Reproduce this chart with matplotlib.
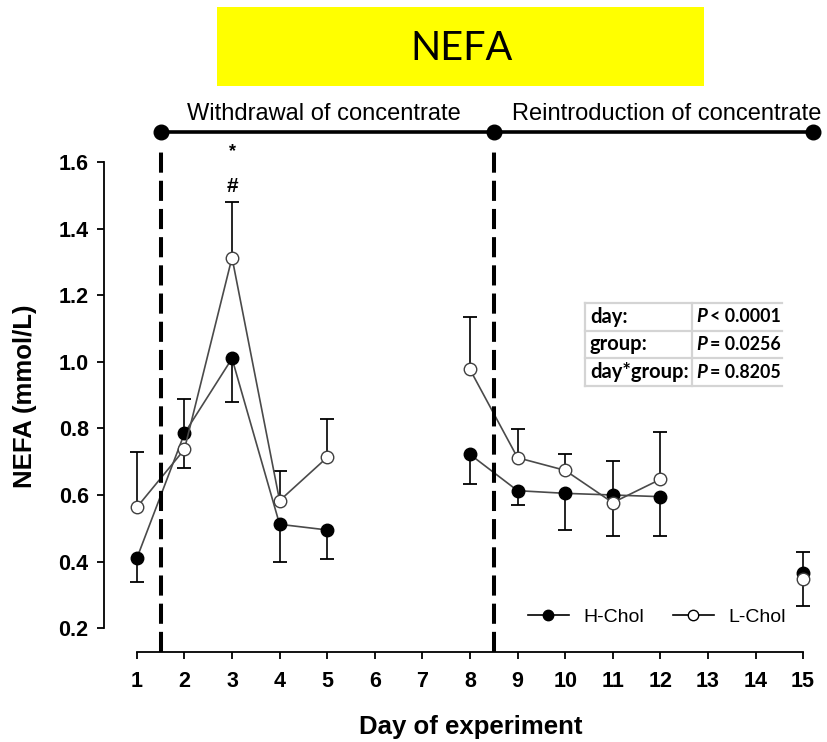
import numpy as np
import matplotlib.pyplot as plt
from matplotlib.lines import Line2D
from matplotlib.patches import Rectangle

nan = np.nan

days = [1, 2, 3, 4, 5, 6, 7, 8, 9, 10, 11, 12, 13, 14, 15]

# means (mmol/L); NaN = no sampling on that day
h_chol = [0.410, 0.785, 1.010, 0.512, 0.495, nan, nan, 0.722, 0.613, 0.605, 0.600, 0.595, nan, nan, 0.365]
l_chol = [0.563, 0.737, 1.313, 0.583, 0.713, nan, nan, 0.977, 0.712, 0.674, 0.577, 0.647, nan, nan, 0.348]

# one-sided error bars: positive = drawn upward, negative = drawn downward
h_err = [-0.072, 0.102, -0.130, -0.112, -0.087, nan, nan, -0.089, -0.044, -0.110, 0.103, -0.118, nan, nan, 0.065]
l_err = [0.166, -0.055, 0.168, 0.090, 0.115, nan, nan, 0.158, 0.086, 0.049, -0.100, 0.143, nan, nan, -0.080]

phase_names = ['Withdrawal of concentrate', 'Reintroduction of concentrate']
phase_bounds = [1.5, 8.5, 15.2]

stat_terms = ['day:', 'group:', 'day*group:']
stat_ops = ['<', '=', '=']
stat_p = ['0.0001', '0.0256', '0.8205']

yticks = [0.2, 0.4, 0.6, 0.8, 1.0, 1.2, 1.4, 1.6]

W, H = 827, 742
plt.rcParams['font.family'] = ['Liberation Sans', 'DejaVu Sans']

fig = plt.figure(figsize=(W / 100, H / 100), dpi=100)
ax = fig.add_axes([104 / W, (H - 652) / H, 711 / W, (652 - 155) / H])

x = np.array(days, dtype=float)
h = np.array(h_chol)
l = np.array(l_chol)
he = np.array(h_err)
le = np.array(l_err)


def errbars(y, e):
    ok = ~np.isnan(e)
    ends = y[ok] + e[ok]
    ax.vlines(x[ok], y[ok], ends, colors='black', lw=1.2, zorder=2)
    ax.plot(x[ok], ends, ls='none', marker='_', ms=10, mew=1.3, color='black', zorder=2)


errbars(h, he)
errbars(l, le)

ax.plot(x, h, color='#4a4a4a', lw=1.2, marker='o', ms=9, mfc='black', mec='black', zorder=3)
ax.plot(x, l, color='#4a4a4a', lw=1.2, marker='o', ms=9, mfc='white', mec='#404040', mew=1.0, zorder=4)

ax.set_xlim(0.31, 15.25)
ax.set_ylim(1.6 - (652 - 162) / 333, 1.6 + (162 - 155) / 333)

# phase separators
ax.vlines(phase_bounds[:2], ax.get_ylim()[0], 1.64, colors='black', lw=2.9,
          linestyles=(0, (5, 2)), clip_on=False, zorder=5)

# phase bracket on top
yb = 1.6 + (162 - 132) / 333
ax.plot([phase_bounds[0], phase_bounds[-1]], [yb, yb], color='black', lw=2.6, clip_on=False)
ax.plot(phase_bounds, [yb] * 3, ls='none', marker='o', ms=10.5, color='black', clip_on=False)
for i, name in enumerate(phase_names):
    cx = 4.94 if i == 0 else 12.14
    ax.text(cx, 1.6 + (162 - 114) / 333, name, ha='center', va='center', fontsize=17)

# significance markers day 3
ax.text(3, 1.6 + (162 - 152) / 333, '*', ha='center', va='center', fontsize=13, fontweight='bold')
ax.text(3, 1.6 + (162 - 186) / 333, '#', ha='center', va='center', fontsize=15, fontweight='bold')

for s in ['top', 'right']:
    ax.spines[s].set_visible(False)
ax.spines['left'].set_bounds(0.2, 1.6)
ax.spines['bottom'].set_bounds(1, 15)
ax.spines['left'].set_linewidth(1.3)
ax.spines['bottom'].set_linewidth(1.3)

ax.set_xticks(days)
ax.set_xticklabels([str(d) for d in days], fontsize=15.5, fontweight='bold')
ax.set_yticks(yticks)
ax.set_yticklabels(['%.1f' % v for v in yticks], fontsize=15.5, fontweight='bold')
ax.tick_params(axis='x', length=5, width=1.3, pad=9)
ax.tick_params(axis='y', length=5, width=1.3, pad=6)

ax.set_xlabel('Day of experiment', fontsize=18.5, fontweight='bold', va='center')
ax.set_ylabel('NEFA (mmol/L)', fontsize=18.5, fontweight='bold', va='center')
ax.xaxis.set_label_coords((470.5 - 104) / 711, (652 - 727) / 497)
ax.yaxis.set_label_coords((25.5 - 104) / 711, (652 - 396) / 497)

handles = [Line2D([], [], color='black', lw=1.2, marker='o', ms=7.5, mfc='black', mec='black'),
           Line2D([], [], color='black', lw=1.2, marker='o', ms=7.5, mfc='white', mec='black')]
ax.legend(handles, ['H-Chol', 'L-Chol'], ncol=2, frameon=False, fontsize=14,
          handlelength=2.1, columnspacing=1.45, handletextpad=0.77,
          borderpad=0, borderaxespad=0,
          loc='center right', bbox_to_anchor=((786 - 104) / 711, (652 - 617) / 497))

# title box
fig.patches.append(Rectangle((217 / W, 1 - 86 / H), (704 - 217) / W, (86 - 7) / H,
                             transform=fig.transFigure, facecolor='#ffff00', edgecolor='none'))
fig.text(462 / W, 1 - 48 / H, 'NEFA', ha='center', va='center', fontsize=28.5, family='Lato')

# statistics table
tl, tm, tr = 585, 692, 782
rows = [303, 331, 358, 386]
grid = '#d4d4d4'


def fline(x0, y0, x1, y1):
    fig.add_artist(Line2D([x0 / W, x1 / W], [1 - y0 / H, 1 - y1 / H], color=grid, lw=1.6,
                          transform=fig.transFigure))


for ry in rows:
    fline(tl, ry, tr, ry)
fline(tl, rows[0], tl, rows[-1])
fline(tm, rows[0], tm, rows[-1])
for i in range(3):
    cy = 1 - (rows[i] + rows[i + 1]) / 2 / H
    fig.text((tl + 5) / W, cy, stat_terms[i], ha='left', va='center', fontsize=14.5,
             fontweight='bold', family='Lato')
    fig.text((tm + 4) / W, cy, 'P', ha='left', va='center', fontsize=13.5,
             fontweight='bold', style='italic', family='Lato')
    fig.text((tm + 18) / W, cy, stat_ops[i] + ' ' + stat_p[i], ha='left', va='center',
             fontsize=12.8, fontweight='bold', family='Lato')

fig.savefig('out.png', dpi=100)
